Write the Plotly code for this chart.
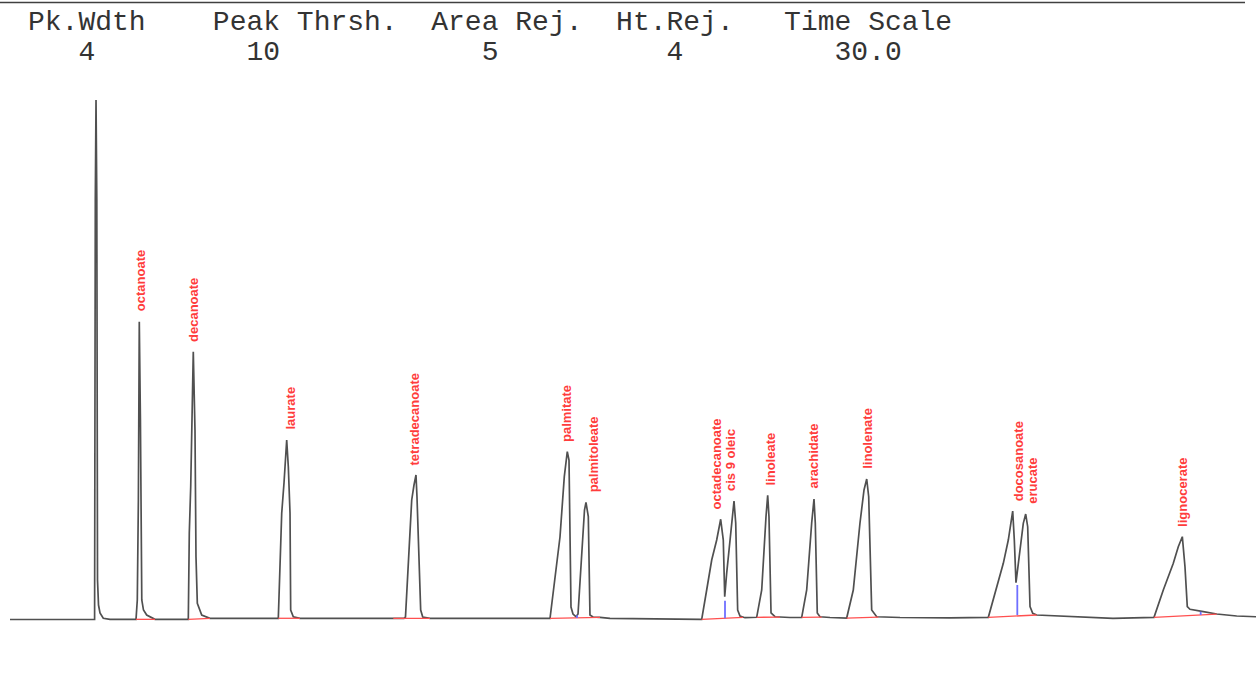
import plotly.graph_objects as go

# ---------------- data ----------------
# detector trace vertices: retention time (min) and signal (mV)
time_min = [0.000, 1.204, 2.037, 2.054, 2.071, 2.090, 2.107, 2.131, 2.167, 2.246, 2.408,
            3.034, 3.065, 3.091, 3.113, 3.140, 3.159, 3.173, 3.214, 3.291, 3.491,
            4.293, 4.317, 4.351, 4.413, 4.454, 4.478, 4.510, 4.616, 4.815,
            6.460, 6.542, 6.597, 6.662, 6.701, 6.742, 6.758, 6.821, 6.982,
            9.486, 9.522, 9.672, 9.727, 9.775, 9.799, 9.888, 9.937, 10.112,
            13.002, 13.242, 13.346, 13.418, 13.459, 13.507, 13.555, 13.628,
            13.676, 13.765, 13.832, 13.868, 13.924, 13.964, 14.037, 14.205, 14.446,
            16.613, 16.654, 16.774, 16.895, 17.015, 17.111, 17.174, 17.208,
            17.256, 17.352, 17.432, 17.473, 17.520, 17.576, 17.697,
            17.978, 18.099, 18.202, 18.243, 18.274, 18.323, 18.419, 18.780,
            19.062, 19.182, 19.302, 19.358, 19.389, 19.437, 19.502, 19.743,
            20.145, 20.304, 20.465, 20.562, 20.627, 20.675, 20.747, 20.867, 21.429, 22.632,
            23.555, 23.757, 23.916, 24.036, 24.142, 24.181, 24.221,
            24.318, 24.397, 24.455, 24.503, 24.559, 24.624, 24.720, 25.521, 26.557,
            27.544, 27.768, 28.009, 28.129, 28.226, 28.290, 28.346, 28.411, 28.731,
            29.054, 29.535, 30.000]
signal_mv = [0.10, 0.10, 0.13, 80.77, 100.00, 80.77, 7.69, 2.88, 1.35, 0.33, 0.13,
             0.13, 3.85, 23.08, 57.37, 38.46, 7.69, 3.85, 1.92, 0.96, 0.13,
             0.13, 16.73, 25.63, 51.60, 36.54, 12.17, 3.21, 0.96, 0.33,
             0.33, 20.52, 26.35, 34.62, 29.48, 20.52, 1.92, 0.63, 0.33,
             0.33, 0.58, 23.08, 25.96, 27.88, 23.65, 1.92, 0.58, 0.33,
             0.33, 15.96, 27.56, 32.37, 30.77, 2.50, 1.15, 0.63,
             1.15, 13.46, 21.15, 22.63, 19.87, 0.96, 0.58, 0.52, 0.33,
             0.13, 0.13, 5.77, 11.54, 15.38, 19.37, 15.38, 4.48,
             9.04, 17.31, 22.88, 18.65, 1.92, 0.77, 0.44,
             0.52, 5.77, 19.87, 23.98, 19.87, 1.35, 0.63, 0.48,
             0.52, 5.77, 18.65, 23.27, 18.65, 1.35, 0.63, 0.48,
             0.38, 5.77, 18.65, 25.00, 27.12, 23.71, 1.92, 0.63, 0.48, 0.42,
             0.52, 6.40, 10.90, 15.38, 20.96, 15.38, 7.17,
             13.46, 18.60, 20.38, 17.94, 2.56, 1.29, 0.96, 0.63, 0.33,
             0.52, 5.77, 10.90, 14.10, 16.02, 10.25, 2.56, 2.06, 1.60,
             1.15, 0.77, 0.63]

# identified peaks
peak_names = ["octanoate", "decanoate", "laurate", "tetradecanoate", "palmitate",
              "palmitoleate", "octadecanoate", "cis 9 oleic", "linoleate",
              "arachidate", "linolenate", "docosanoate", "erucate", "lignocerate"]
peak_rt = [3.130, 4.413, 6.742, 9.739, 13.382, 14.037, 17.015, 17.335, 18.315,
           19.334, 20.641, 24.276, 24.599, 28.211]
peak_height = [57.37, 51.60, 34.62, 27.88, 32.37, 22.63, 19.37, 22.88, 23.98,
               23.27, 27.12, 20.96, 20.38, 16.02]

# integration baselines (start / end of each integrated region)
int_start_t = [3.034, 4.293, 6.460, 9.229, 13.002, 16.654, 17.978, 19.062, 20.145, 23.555, 27.544]
int_start_s = [0.13, 0.13, 0.33, 0.33, 0.33, 0.13, 0.52, 0.52, 0.38, 0.52, 0.52]
int_end_t = [3.491, 4.815, 6.982, 10.112, 14.205, 17.648, 18.539, 19.543, 20.906, 24.720, 29.054]
int_end_s = [0.13, 0.33, 0.33, 0.33, 0.52, 0.50, 0.55, 0.55, 0.55, 0.96, 1.15]

# peak-split drop lines
drop_t = [13.652, 17.215, 24.253, 28.668]
drop_low = [0.40, 0.33, 0.96, 0.96]
drop_high = [0.90, 3.71, 6.73, 1.60]

# integration parameters header
header_labels = ["Pk.Wdth", "Peak Thrsh.", "Area Rej.", "Ht.Rej.", "Time Scale"]
header_values = ["4", "10", "5", "4", "30.0"]
label_cols = [0, 11, 24, 35, 45]
value_cols = [3, 13, 27, 38, 48]

# ---------------- figure ----------------
W, H = 1256, 677
fig = go.Figure()

fig.add_trace(go.Scatter(x=time_min, y=signal_mv, mode="lines",
                         line=dict(color="#505050", width=1.7),
                         hoverinfo="skip", showlegend=False))

bx, by = [], []
for a, sa, b, sb in zip(int_start_t, int_start_s, int_end_t, int_end_s):
    bx += [a, b, None]
    by += [sa, sb, None]
fig.add_trace(go.Scatter(x=bx, y=by, mode="lines",
                         line=dict(color="#ff5050", width=1.3),
                         hoverinfo="skip", showlegend=False))

dx, dy = [], []
for t, lo, hi in zip(drop_t, drop_low, drop_high):
    dx += [t, t, None]
    dy += [lo, hi, None]
fig.add_trace(go.Scatter(x=dx, y=dy, mode="lines",
                         line=dict(color="#6f6fff", width=1.8),
                         hoverinfo="skip", showlegend=False))

for name, rt, h in zip(peak_names, peak_rt, peak_height):
    fig.add_annotation(x=rt, y=h, text=name, textangle=-90, showarrow=False,
                       xanchor="center", yanchor="bottom", yshift=8,
                       font=dict(family="Liberation Sans, Arial", size=13,
                                 color="#ff3c3c", weight="bold"))

def build_line(items, cols):
    chars = []
    for it, c in zip(items, cols):
        while len(chars) < c:
            chars.append("\u00a0")
        chars.extend(list(it))
    return "".join(chars)

line1 = build_line(header_labels, label_cols)
line2 = build_line(header_values, value_cols)
for txt, ypx in [(line1, 22), (line2, 52)]:
    fig.add_annotation(xref="paper", yref="paper", x=26 / W, y=1 - ypx / H,
                       text=txt, showarrow=False, xanchor="left", yanchor="middle",
                       font=dict(family="Liberation Mono, Courier New, monospace",
                                 size=28, color="#333333"))

fig.add_shape(type="line", xref="paper", yref="paper",
              x0=0, x1=1245 / W, y0=1 - 2.5 / H, y1=1 - 2.5 / H,
              line=dict(color="#404040", width=1.5))

fig.update_layout(
    width=W, height=H,
    margin=dict(l=0, r=0, t=0, b=0),
    paper_bgcolor="white", plot_bgcolor="white",
    xaxis=dict(range=[-0.2408, 30.0], visible=False, showgrid=False, zeroline=False),
    yaxis=dict(range=[-10.96, 119.23], visible=False, showgrid=False, zeroline=False),
)

fig.write_html("out.html", config={"displayModeBar": False},
               post_script="document.body.style.margin='0';")
